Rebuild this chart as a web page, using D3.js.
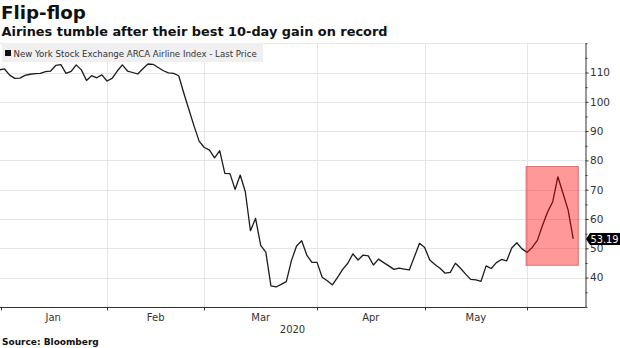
<!DOCTYPE html>
<html>
<head>
<meta charset="utf-8">
<script src="https://cdn.jsdelivr.net/npm/d3@7"></script>
<style>
  html, body { margin: 0; padding: 0; background: #fff; }
  svg { display: block; font-family: "DejaVu Sans", Verdana, sans-serif; }
</style>
</head>
<body>
<script>
// NYSE Arca Airline Index, daily closes (trading days, 2 Jan – mid June 2020)
const janValues = [110.9,111.2,109.1,108.0,108.1,109.0,109.4,109.6,109.7,110.3,110.5,112.4,112.7,109.7,110.4,112.6,110.9,107.3,108.9,108.2,109.2];
const febValues = [107.1,108.0,110.5,112.6,110.5,110.0,109.5,111.3,112.9,112.8,111.7,110.6,109.9,109.7,108.9,102.9,97.3,91.7,86.5];
const marValues = [84.4,83.5,80.9,83.3,75.6,75.5,70.1,75.0,69.3,56.0,60.2,51.0,48.7,37.2,36.8,37.7,38.6,45.8,50.8,52.6,47.7,45.2];
const aprValues = [45.2,40.1,38.9,37.5,40.1,42.8,44.9,48.1,46.0,47.7,47.4,44.3,46.3,45.1,44.0,42.8,43.2,42.9,42.6,47.1,51.7];
const mayValues = [50.3,46.0,44.5,43.2,41.5,41.8,44.9,43.2,41.2,39.4,39.2,38.7,44.0,43.1,45.1,46.2,45.7,50.1,51.9,49.8];
const junValues = [48.6,50.3,52.7,57.8,62.4,65.9,74.4,68.8,63.1,53.19];

const months = ["Jan", "Feb", "Mar", "Apr", "May"];
const monthSeries = [janValues, febValues, marValues, aprValues, mayValues, junValues];
const yearLabel = "2020";
const yTicks = [40, 50, 60, 70, 80, 90, 100, 110];
const lastPrice = 53.19;

// the ten-day rally window (trading-day index range and price band)
const rallyWindow = [102.8, 113.0];
const rallyBand = [44.2, 77.9];

const title = "Flip-flop";
const subtitle = "Airines tumble after their best 10-day gain on record";
const legendLabel = "New York Stock Exchange ARCA Airline Index - Last Price";
const source = "Source:  Bloomberg";

// flatten into one daily series; remember where each month starts
const values = [].concat(...monthSeries);
const monthStarts = [];
let acc = 0;
monthSeries.forEach(m => { monthStarts.push(acc); acc += m.length; });

const W = 620, H = 348;
const plotLeft = 0, plotRight = 585, plotTop = 43.2, plotBottom = 306.9;

const x = d3.scaleLinear().domain([0, 114.3]).range([-0.6, plotRight]);
const y = d3.scaleLinear().domain([30, 120]).range([plotBottom, plotTop]);

const svg = d3.select("body").append("svg").attr("width", W).attr("height", H);

svg.append("defs").append("clipPath").attr("id", "plot-clip")
  .append("rect").attr("x", plotLeft).attr("y", 0).attr("width", plotRight - plotLeft).attr("height", H);

// grid
const grid = svg.append("g").attr("stroke", "#e6e6e6").attr("stroke-width", 1);
grid.selectAll("line.h").data(d3.range(40, 121, 10)).join("line")
  .attr("x1", plotLeft).attr("x2", plotRight)
  .attr("y1", d => Math.round(y(d)) + 0.5).attr("y2", d => Math.round(y(d)) + 0.5);
grid.selectAll("line.v").data(monthStarts.slice(1)).join("line")
  .attr("x1", d => Math.round(x(d)) + 0.5).attr("x2", d => Math.round(x(d)) + 0.5)
  .attr("y1", plotTop).attr("y2", plotBottom);

// price line
svg.append("path")
  .datum(values)
  .attr("clip-path", "url(#plot-clip)")
  .attr("fill", "none")
  .attr("stroke", "#1c1c1c")
  .attr("stroke-width", 1.3)
  .attr("stroke-linejoin", "round")
  .attr("d", d3.line().x((d, i) => x(i)).y(d => y(d)));

// highlighted rally
svg.append("rect")
  .attr("x", x(rallyWindow[0])).attr("width", x(rallyWindow[1]) - x(rallyWindow[0]))
  .attr("y", y(rallyBand[1])).attr("height", y(rallyBand[0]) - y(rallyBand[1]))
  .attr("fill", "#ff0000").attr("fill-opacity", 0.4)
  .attr("stroke", "#c83232").attr("stroke-opacity", 0.6).attr("stroke-width", 1);

// right value axis
const yAxis = d3.axisRight(y)
  .tickValues(d3.range(30, 121, 5))
  .tickSize(3).tickSizeOuter(0)
  .tickFormat(d => yTicks.includes(d) ? d : "");
const yg = svg.append("g").attr("transform", `translate(${plotRight + 0.5},0)`).call(yAxis);
yg.select(".domain").attr("stroke", "#333");
yg.selectAll(".tick line").attr("stroke", "#333").attr("x2", d => yTicks.includes(d) ? 3 : 2);
yg.selectAll(".tick text").attr("x", 4.5).attr("fill", "#333")
  .style("font-size", "10.5px").style("font-family", "DejaVu Sans, sans-serif");

// bottom time axis
const xg = svg.append("g");
xg.append("line").attr("x1", plotLeft).attr("x2", plotRight + 0.5)
  .attr("y1", plotBottom + 0.6).attr("y2", plotBottom + 0.6)
  .attr("stroke", "#333").attr("stroke-width", 1.2);
xg.selectAll("line.t").data(monthStarts.slice(1).concat([0])).join("line")
  .attr("x1", d => Math.round(Math.max(x(d), 0.5)) + 0.5).attr("x2", d => Math.round(Math.max(x(d), 0.5)) + 0.5)
  .attr("y1", plotBottom).attr("y2", plotBottom + 3.5)
  .attr("stroke", "#333");
xg.selectAll("text.m").data(months).join("text")
  .attr("x", (d, i) => x((monthStarts[i] + monthStarts[i + 1]) / 2))
  .attr("y", 320.5)
  .attr("text-anchor", "middle")
  .attr("fill", "#333")
  .style("font-size", "10px")
  .text(d => d);
xg.append("text")
  .attr("x", (plotLeft + plotRight) / 2).attr("y", 333)
  .attr("text-anchor", "middle").attr("fill", "#333")
  .style("font-size", "10px")
  .text(yearLabel);

// last price tag
const ly = y(lastPrice);
svg.append("path")
  .attr("d", `M${plotRight + 1},${ly} L${plotRight + 5},${ly - 6} L${W},${ly - 6} L${W},${ly + 6} L${plotRight + 5},${ly + 6} Z`)
  .attr("fill", "#000");
svg.append("text")
  .attr("x", plotRight + 5.5).attr("y", ly + 3.6)
  .attr("fill", "#fff")
  .style("font-size", "9.8px")
  .text(lastPrice.toFixed(2));

// legend
const lg = svg.append("g");
lg.append("rect").attr("x", 2).attr("y", 43).attr("width", 261).attr("height", 19).attr("fill", "#f0f0f0");
lg.append("rect").attr("x", 5).attr("y", 50).attr("width", 6).attr("height", 6).attr("fill", "#111");
lg.append("text").attr("x", 13.5).attr("y", 56.5)
  .attr("fill", "#333").style("font-size", "8.6px").text(legendLabel);

// headings
svg.append("text").attr("x", 1).attr("y", 18.5)
  .attr("fill", "#111").style("font-size", "18.3px").style("font-weight", "bold").text(title);
svg.append("text").attr("x", 1.5).attr("y", 35.5)
  .attr("fill", "#111").style("font-size", "12.9px").style("font-weight", "bold").text(subtitle);
svg.append("text").attr("x", 2).attr("y", 345)
  .attr("fill", "#111").style("font-size", "9px").style("font-weight", "bold").text(source);
</script>
</body>
</html>
